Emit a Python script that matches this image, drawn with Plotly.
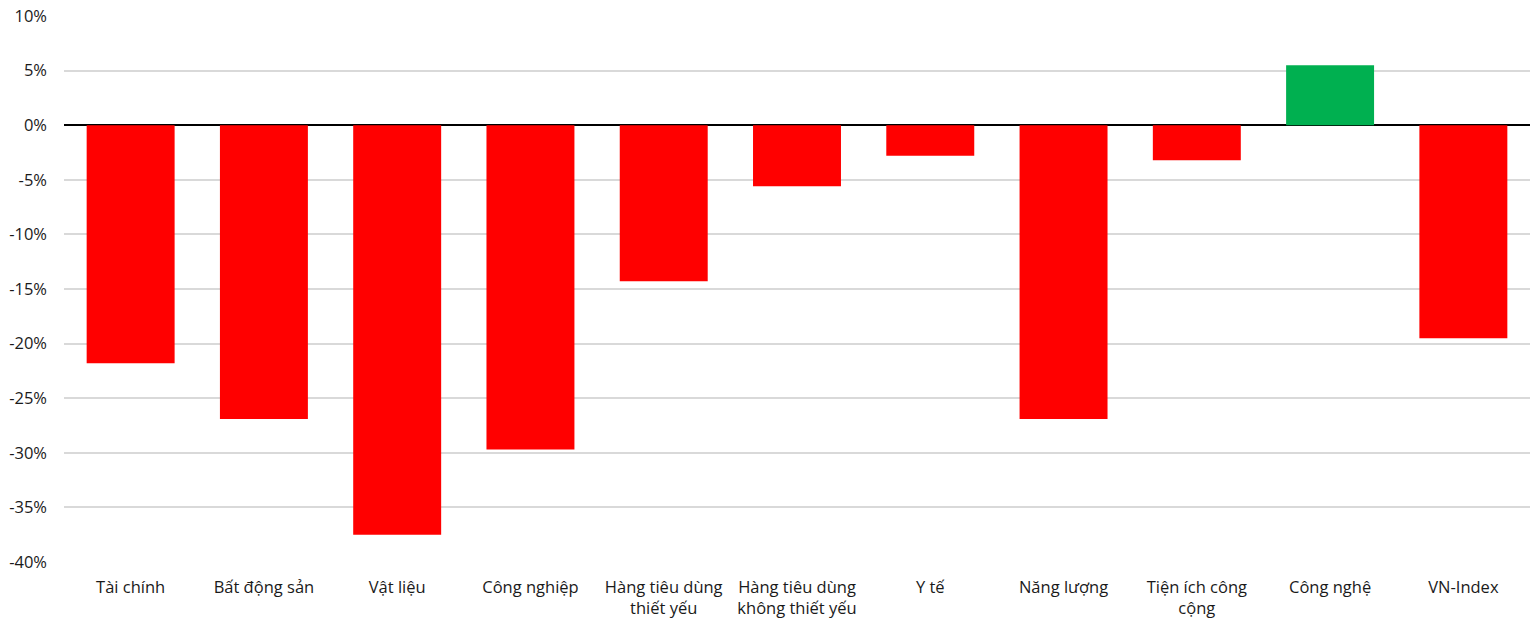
import plotly.graph_objects as go

categories = ["Tài chính", "Bất động sản", "Vật liệu", "Công nghiệp",
              "Hàng tiêu dùng<br>thiết yếu", "Hàng tiêu dùng<br>không thiết yếu",
              "Y tế", "Năng lượng", "Tiện ích công<br>cộng", "Công nghệ", "VN-Index"]
values = [-21.8, -26.9, -37.5, -29.7, -14.3, -5.6, -2.8, -26.9, -3.2, 5.5, -19.5]
tick_vals = [10, 5, 0, -5, -10, -15, -20, -25, -30, -35, -40]
tick_text = [f"{v}%" for v in tick_vals]

colors = ["#00B050" if v > 0 else "#FF0000" for v in values]

fig = go.Figure(go.Bar(
    x=categories, y=values, marker=dict(color=colors, line=dict(width=0)),
    width=0.66,
))

fig.update_layout(
    width=1537, height=622,
    margin=dict(l=64, r=7, t=16, b=60),
    paper_bgcolor="white", plot_bgcolor="white",
    font=dict(family="Open Sans, Noto Sans, sans-serif", size=16.5, color="#1a1a1a"),
    showlegend=False,
    bargap=0.34,
)
fig.update_yaxes(
    range=[-40, 10], tickvals=tick_vals, ticktext=tick_text,
    showgrid=True, gridcolor="#d9d9d9", gridwidth=1.5,
    zeroline=True, zerolinecolor="black", zerolinewidth=2,
    ticks="", ticklabelstandoff=16, automargin=False,
)
fig.update_xaxes(showgrid=False, ticks="", showline=False, tickangle=0,
                 ticklabelstandoff=13, automargin=False)

fig.write_html("out.html")
